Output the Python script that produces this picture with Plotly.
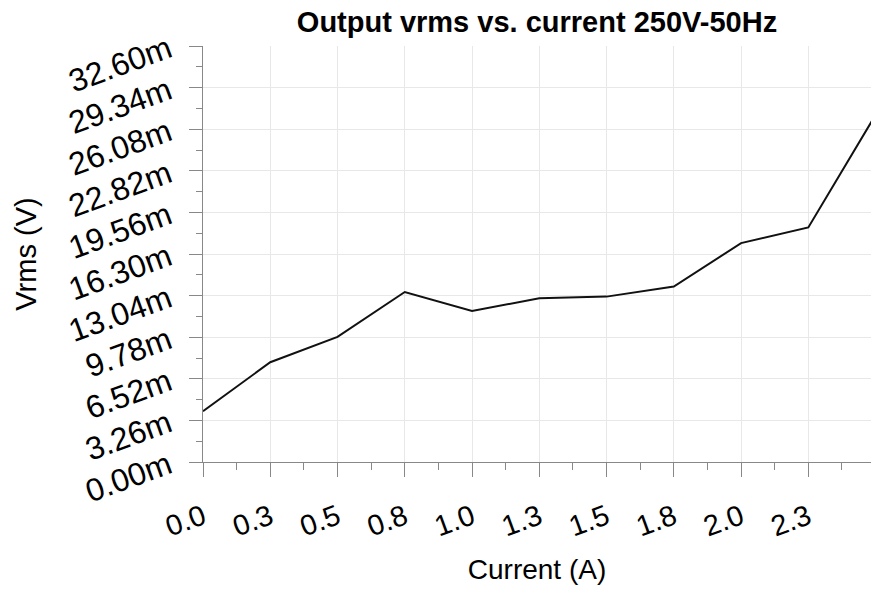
import plotly.graph_objects as go

# Data (Current in A, Vrms in V)
current = [0.0, 0.25, 0.5, 0.75, 1.0, 1.25, 1.5, 1.75, 2.0, 2.25, 2.5]
vrms = [3.975e-3, 7.82e-3, 9.80e-3, 13.32e-3, 11.83e-3, 12.83e-3, 12.96e-3,
        13.75e-3, 17.15e-3, 18.38e-3, 27.2e-3]

x_tickvals = [0.0, 0.25, 0.5, 0.75, 1.0, 1.25, 1.5, 1.75, 2.0, 2.25]
x_ticktext = ["0.0", "0.3", "0.5", "0.8", "1.0", "1.3", "1.5", "1.8", "2.0", "2.3"]
y_tickvals = [i * 3.26e-3 for i in range(11)]
y_ticktext = ["0.00m", "3.26m", "6.52m", "9.78m", "13.04m", "16.30m",
              "19.56m", "22.82m", "26.08m", "29.34m", "32.60m"]

FONT = "Liberation Sans, Arial, sans-serif"

fig = go.Figure()
fig.add_trace(go.Scatter(x=current, y=vrms, mode="lines",
                         line=dict(color="#111111", width=2),
                         showlegend=False, hoverinfo="skip"))

fig.update_layout(
    width=871, height=595,
    margin=dict(l=203, r=0, t=46, b=133),
    paper_bgcolor="white", plot_bgcolor="white",
    font=dict(family=FONT, color="black"),
    title=dict(text="<b>Output vrms vs. current 250V-50Hz</b>",
               font=dict(size=29, family=FONT, color="black"),
               x=537/871, xanchor="center", y=1-22/595, yanchor="middle"),
)

fig.update_xaxes(
    range=[0, 2.483], tickmode="array", tickvals=x_tickvals, ticktext=x_ticktext,
    tickangle=-20, tickfont=dict(size=29, family=FONT, color="black"),
    ticks="outside", ticklen=14, tickcolor="#888888", tickwidth=1,
    ticklabelstandoff=12,
    showline=True, linecolor="#888888", linewidth=1,
    showgrid=True, gridcolor="#e8e8e8", gridwidth=1, zeroline=False,
    minor=dict(dtick=0.125, tick0=0, ticks="outside", ticklen=7,
               tickcolor="#888888", showgrid=False),
    title=dict(text="Current (A)", font=dict(size=28, family=FONT, color="black"),
               standoff=18),
    automargin=False,
)

fig.update_yaxes(
    range=[0, 32.6e-3], tickmode="array", tickvals=y_tickvals, ticktext=y_ticktext,
    tickangle=-20, tickfont=dict(size=32, family=FONT, color="black"),
    ticks="outside", ticklen=13, tickcolor="#888888", tickwidth=1,
    ticklabelstandoff=14,
    showline=True, linecolor="#888888", linewidth=1,
    showgrid=True, gridcolor="#e8e8e8", gridwidth=1, zeroline=False,
    minor=dict(dtick=1.63e-3, tick0=0, ticks="outside", ticklen=6,
               tickcolor="#888888", showgrid=False),
    title=dict(text="Vrms (V)", font=dict(size=29, family=FONT, color="black"),
               standoff=18),
    automargin=False,
)

fig.write_html("out.html", config={"displayModeBar": False},
               post_script="document.body.style.margin='0';")
